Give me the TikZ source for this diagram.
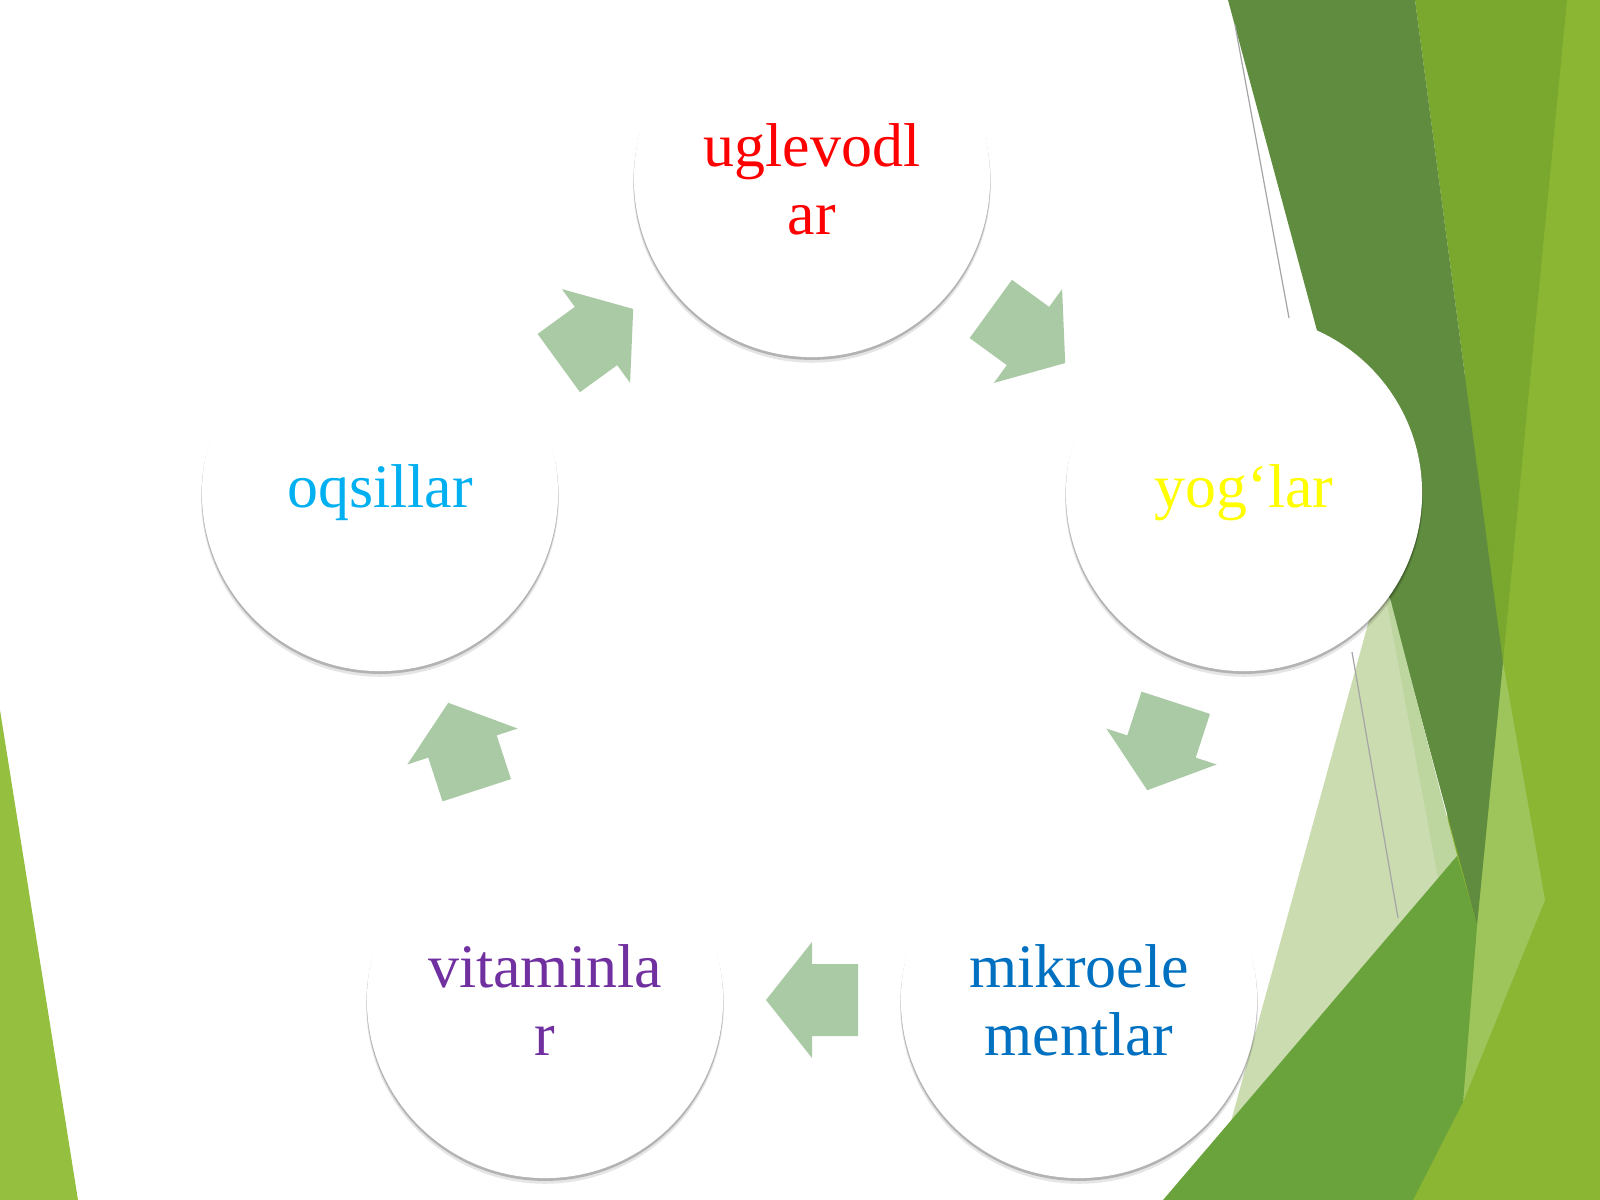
\documentclass[tikz,border=0pt]{standalone}
\usepackage{fontspec}
\setmainfont{Liberation Serif}
\usetikzlibrary{calc,shadows}
\definecolor{cC}{HTML}{8BB634}
\definecolor{cB}{HTML}{7AA72D}
\definecolor{cL}{HTML}{9EC45C}
\definecolor{cD}{HTML}{5F8C3E}
\definecolor{cP}{HTML}{CBDCB1}
\definecolor{cQ}{HTML}{BDD59F}
\definecolor{cM}{HTML}{6AA33B}
\definecolor{cT}{HTML}{95BF3E}
\definecolor{arrowfill}{HTML}{AACAA5}
\definecolor{tred}{HTML}{FF0000}
\definecolor{tyellow}{HTML}{FFFF00}
\definecolor{tcyan}{HTML}{00B0F0}
\definecolor{tpurple}{HTML}{7030A0}
\definecolor{tblue}{HTML}{0070C0}
\tikzset{
  bubble/.style={circle, fill=white, minimum size=3.56cm, inner sep=0pt, align=center,
    font=\fontsize{17.6pt}{19.4pt}\selectfont,
    drop shadow={shadow xshift=0pt, shadow yshift=-1.4pt, shadow scale=1.004, opacity=0.10, fill=black},
    drop shadow={shadow xshift=0pt, shadow yshift=-0.7pt, shadow scale=1.002, opacity=0.22, fill=black}},
  thinline/.style={draw=black!35, line width=0.35pt},
  blockarrow/.pic={
    \fill[arrowfill] (-46,-36) -- (0,-36) -- (0,-58) -- (46,0) -- (0,58) -- (0,36) -- (-46,36) -- cycle;
  }
}
\begin{document}
\begin{tikzpicture}[x=0.01cm, y=-0.01cm]
\useasboundingbox (0,0) rectangle (1600,1200);
% background facets
\fill[cC] (1480,0) -- (1600,0) -- (1600,1200) -- (1400,1200) -- (1440,1000) -- cycle;
\fill[cB] (1415,0) -- (1567,0) -- (1530,380) -- (1503,662) -- cycle;
\fill[cL] (1503,662) -- (1545,900) -- (1463,1102) -- (1477,925) -- cycle;
\fill[cD] (1228,0) -- (1415,0) -- (1503,662) -- (1477,925) -- cycle;
\fill[cP] (1376,595) -- (1388,595) -- (1457,856) -- (1231,1121) -- cycle;
\fill[cQ] (1386,598) -- (1390,598) -- (1457,856) -- (1438,878) -- cycle;
\fill[cM] (1457,856) -- (1477,925) -- (1463,1102) -- (1413,1200) -- (1163,1200) -- cycle;
\draw[thinline] (1235,25) -- (1289,318);
\draw[thinline] (1352,652) -- (1398,918);
\fill[cT] (0,710) -- (78,1200) -- (0,1200) -- cycle;
% circles
\node[bubble, text=tred] (ug) at (812,179) {uglevodl\\ar};
\node[bubble, text=tyellow] (yog) at (1244,493) {yog‘lar};
\node[bubble, text=tblue] (mik) at (1079,1000) {mikroele\\mentlar};
\node[bubble, text=tpurple] (vit) at (545,1000) {vitaminla\\r};
\node[bubble, text=tcyan] (oq) at (380,493) {oqsillar};
% block arrows
\foreach \a/\b in {ug/yog, yog/mik, mik/vit, vit/oq, oq/ug}{
  \path let \p1=($(\b)-(\a)$), \n1={atan2(\y1,\x1)} in
    pic[rotate=\n1] at ($(\a)!0.5!(\b)$) {blockarrow};
}
\end{tikzpicture}
\end{document}
